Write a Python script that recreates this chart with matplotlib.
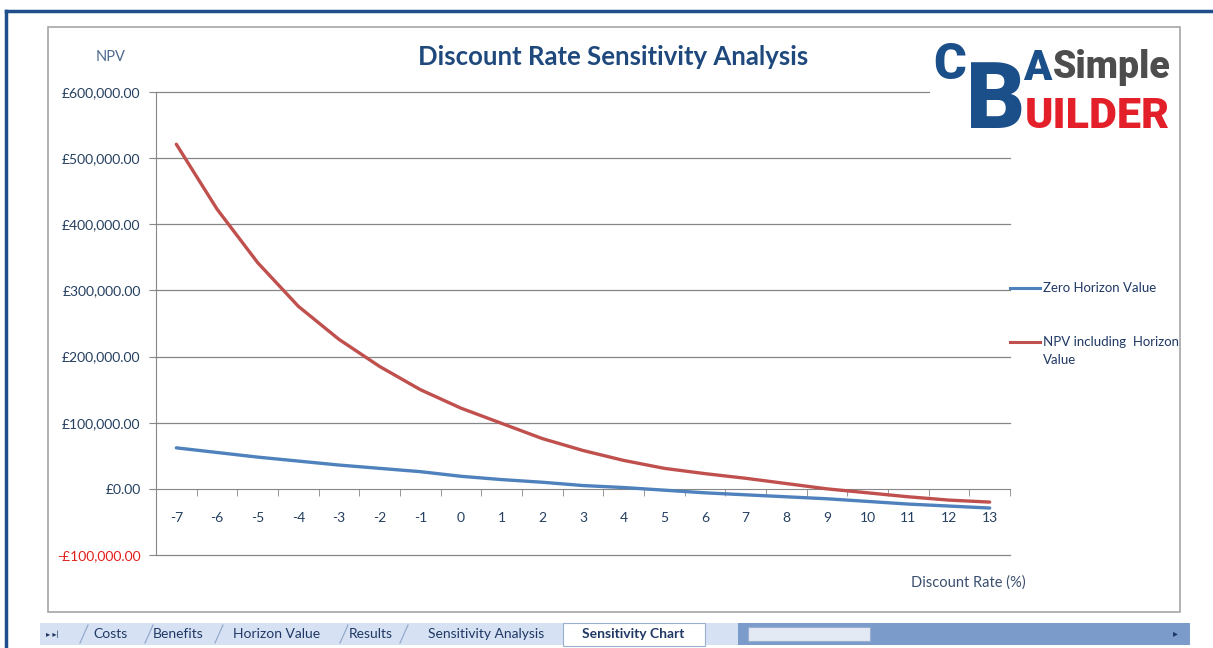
import matplotlib
matplotlib.use("Agg")
import matplotlib.pyplot as plt
from matplotlib.patches import Rectangle
from matplotlib.lines import Line2D

plt.rcParams['font.family'] = ['Lato', 'DejaVu Sans']

# Data
discount_rates = list(range(-7, 14))
zero_horizon = [62000, 55000, 48000, 42000, 36000, 31000, 26000, 19000, 14000, 10000, 5000,
                2000, -2000, -6000, -9000, -12000, -15000, -19000, -23000, -26000, -29000]
npv_horizon = [521000, 423000, 342000, 276000, 226000, 185000, 150000, 122000, 99000, 76000,
               58000, 43000, 31000, 23000, 16000, 8000, 0, -6000, -12000, -17000, -20000]
series_names = ['Zero Horizon Value', 'NPV including  Horizon\nValue']
y_ticks = [-100000, 0, 100000, 200000, 300000, 400000, 500000, 600000]
sheet_tabs = ['Costs', 'Benefits', 'Horizon Value', 'Results', 'Sensitivity Analysis']
active_tab = 'Sensitivity Chart'

W, H = 1213, 648
fig = plt.figure(figsize=(W / 100, H / 100), dpi=100)


def box(x0, y0, x1, y1):
    # pixel box (top-left origin) -> figure fraction rect
    return [x0 / W, 1 - y1 / H, (x1 - x0) / W, (y1 - y0) / H]


def fx(x):
    return x / W


def fy(y):
    return 1 - y / H


# --------------------------
# Window frame and chart border
# --------------------------
fig.add_artist(Line2D([fx(6), fx(W)], [fy(11), fy(11)], color='#1F4E8C', lw=2.5))
fig.add_artist(Line2D([fx(6), fx(6)], [fy(11), fy(H)], color='#1F4E8C', lw=2.5))
fig.add_artist(Rectangle((fx(48), fy(612)), fx(1180) - fx(48), fy(27) - fy(612),
                         transform=fig.transFigure, fill=False, ec='#A6A6A6', lw=1.2))

# --------------------------
# Main chart
# --------------------------
ax = fig.add_axes(box(156, 92, 1010, 555))
x = list(range(len(discount_rates)))
colors = ['#4F81BD', '#C0504D']
ax.plot(x, zero_horizon, color=colors[0], lw=2.4, solid_capstyle='round', zorder=3)
ax.plot(x, npv_horizon, color=colors[1], lw=2.4, solid_capstyle='round', zorder=3)

ax.set_xlim(-0.5, len(x) - 0.5)
ax.set_ylim(-100000, 600000)
for v in y_ticks:
    if v != 0:
        ax.axhline(v, color='#878787', lw=0.9, zorder=0, clip_on=False)

for s in ['top', 'right']:
    ax.spines[s].set_visible(False)
ax.spines['left'].set_color('#878787')
ax.spines['bottom'].set_color('#878787')
ax.spines['bottom'].set_position(('data', 0))

ax.set_yticks(y_ticks)
ax.set_yticklabels(['-£100,000.00' if v < 0 else '£{:,.2f}'.format(v) for v in y_ticks])
for lbl, v in zip(ax.get_yticklabels(), y_ticks):
    lbl.set_color('#E0201B' if v < 0 else '#243F60')
ax.tick_params(axis='y', length=5, color='#878787', labelsize=10, pad=6)

ax.set_xticks(x)
ax.set_xticklabels([str(d) for d in discount_rates])
ax.tick_params(axis='x', which='major', length=0, pad=17, labelsize=10, labelcolor='#243F60')
ax.set_xticks([i - 0.5 for i in range(len(x) + 1)], minor=True)
ax.tick_params(axis='x', which='minor', length=5, color='#878787', direction='out')

fig.text(fx(111), fy(57), 'NPV', ha='center', va='center', fontsize=10.5, color='#4F6A8F')
fig.text(fx(613), fy(57), 'Discount Rate Sensitivity Analysis', ha='center', va='center',
         fontsize=18.5, fontweight='bold', color='#1F497D')
fig.text(fx(968), fy(583), 'Discount Rate (%)', ha='center', va='center', fontsize=10.5,
         color='#3A4F6E')

# Legend (Excel style: marker line beside the first text line)
for name, col, ly in zip(series_names, colors, [288, 342]):
    fig.add_artist(Line2D([fx(1010), fx(1040)], [fy(ly), fy(ly)], color=col, lw=2.2))
    fig.text(fx(1043), fy(ly - 6), name, ha='left', va='top', fontsize=9.5, color='#1F3864',
             linespacing=1.65)

# Logo (CBA Simple Builder)
logo_font = ['Roboto', 'DejaVu Sans']
fig.add_artist(Rectangle((fx(930), fy(132)), fx(1176) - fx(930), fy(34) - fy(132),
                         transform=fig.transFigure, fc='white', ec='none', zorder=5))
fig.text(fx(933), fy(79), 'C', ha='left', va='baseline', fontsize=36, fontweight='black',
         color='#1B4F8A', zorder=6, family=logo_font)
fig.text(fx(966), fy(128), 'B', ha='left', va='baseline', fontsize=66, fontweight='black',
         color='#1B4F8A', zorder=6, family=logo_font)
fig.text(fx(1023), fy(80), 'A', ha='left', va='baseline', fontsize=30, fontweight='black',
         color='#1B4F8A', zorder=7, family=logo_font)
fig.text(fx(1053), fy(78), 'Simple', ha='left', va='baseline', fontsize=27, fontweight='black',
         color='#4D4D4D', zorder=6, family=logo_font)
fig.text(fx(1025), fy(128), 'UILDER', ha='left', va='baseline', fontsize=31, fontweight='black',
         color='#E3202A', zorder=6, family=logo_font)

# --------------------------
# Sheet tab bar
# --------------------------
fig.add_artist(Rectangle((fx(40), fy(645)), fx(1190) - fx(40), fy(623) - fy(645),
                         transform=fig.transFigure, fc='#D6E2F3', ec='none'))
fig.add_artist(Rectangle((fx(738), fy(645)), fx(1190) - fx(738), fy(623) - fy(645),
                         transform=fig.transFigure, fc='#7B9BCB', ec='none'))
fig.add_artist(Rectangle((fx(748), fy(641)), fx(870) - fx(748), fy(627) - fy(641),
                         transform=fig.transFigure, fc='#E4EAF3', ec='#9AAFCF', lw=0.8))
fig.add_artist(Rectangle((fx(563), fy(646)), fx(705) - fx(563), fy(623) - fy(646),
                         transform=fig.transFigure, fc='white', ec='#9AAFCF', lw=0.8))
fig.text(fx(52), fy(634), '\u25B8 \u25B8|', ha='center', va='center', fontsize=6, color='#1F3864')
tab_x = [110, 178, 277, 371, 486]
for name, tx in zip(sheet_tabs, tab_x):
    fig.text(fx(tx), fy(634), name, ha='center', va='center', fontsize=10, color='#1F3864')
for sx in [80, 145, 215, 340, 400]:
    fig.add_artist(Line2D([fx(sx), fx(sx + 8)], [fy(643), fy(625)], color='#8EA4C8', lw=0.8))
fig.text(fx(633), fy(634), active_tab, ha='center', va='center', fontsize=10, fontweight='bold',
         color='#1F3864')
fig.text(fx(1175), fy(634), '\u25B8', ha='center', va='center', fontsize=7, color='#1F3864')

fig.savefig('out.png', dpi=100)
